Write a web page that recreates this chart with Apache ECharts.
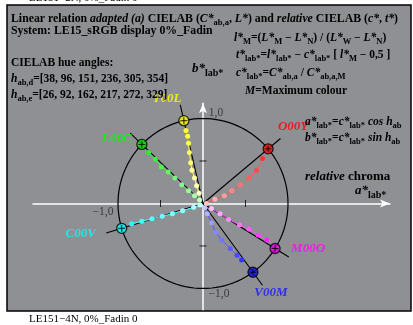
<!DOCTYPE html>
<html>
<head>
<meta charset="utf-8">
<script src="https://cdn.jsdelivr.net/npm/echarts@6/dist/echarts.min.js"></script>
<style>
  html, body { margin: 0; padding: 0; background: #fff; }
  #chart { width: 413px; height: 325px; }
</style>
</head>
<body>
<div id="chart"></div>
<script>
// hue axes of the six maximum colours (degrees in the a*/b* plane)
const hueNames = ['O00Y', 'Y00L', 'L00C', 'C00V', 'V00M', 'M00O'];
const hueAngles = [40, 103, 136, 197, 306, 328];
const hueAnglesD = [38, 96, 151, 236, 305, 354];
const hueAnglesE = [26, 92, 162, 217, 272, 329];

// measured points along each hue (a*lab*, b*lab*), outer to inner
const dotsO = [[0.70, 0.53], [0.63, 0.39], [0.54, 0.30], [0.44, 0.22], [0.34, 0.15], [0.25, 0.09], [0.14, 0.05], [0.04, 0.00]];
const dotsY = [[-0.20, 0.86], [-0.18, 0.79], [-0.17, 0.71], [-0.16, 0.60], [-0.145, 0.48], [-0.13, 0.39], [-0.10, 0.30], [-0.075, 0.21], [-0.047, 0.12]];
const dotsL = [[-0.64, 0.60], [-0.56, 0.52], [-0.49, 0.43], [-0.41, 0.37], [-0.33, 0.30], [-0.25, 0.22], [-0.17, 0.15], [-0.10, 0.09], [-0.04, 0.04]];
const dotsC = [[-0.84, -0.24], [-0.72, -0.21], [-0.60, -0.18], [-0.48, -0.15], [-0.36, -0.12], [-0.24, -0.085], [-0.11, -0.045], [-0.035, -0.018]];
const dotsV = [[0.455, -0.665], [0.40, -0.61], [0.32, -0.53], [0.22, -0.43], [0.15, -0.34], [0.10, -0.23], [0.05, -0.12], [0.02, -0.05]];
const dotsM = [[0.75, -0.43], [0.65, -0.37], [0.54, -0.30], [0.43, -0.25], [0.30, -0.19], [0.20, -0.12], [0.10, -0.06]];
const hueDots = [dotsO, dotsY, dotsL, dotsC, dotsV, dotsM];

const axisTicks = [-0.5, 0.5];
const axisTickLabels = ['1,0', '\u22121,0', '\u22121,0'];

// styling
const hueColors = ['#ff1010', '#ffff00', '#00f000', '#00ffff', '#1010ff', '#ff00ff'];
const labelColors = ['#ff0000', '#ffff00', '#00ff00', '#00ffff', '#1414ff', '#ff00ff'];
const labelOffsets = [[25, -22], [-17, -22], [-25, -6], [-41, 5], [18, 20], [33, 0]];
const rayLength = 1.19;
const serif = '"Liberation Serif", "DejaVu Serif", serif';
const ink = '#f8f8f8';

function mix(hex, t) {
  const n = parseInt(hex.slice(1), 16);
  const c = [(n >> 16) & 255, (n >> 8) & 255, n & 255].map(v => Math.round(v + (255 - v) * t));
  return 'rgb(' + c.join(',') + ')';
}
const rad = d => d * Math.PI / 180;

const rich = {
  b: { fontFamily: serif, fontWeight: 'bold', fontSize: 11.5, color: ink, lineHeight: 16 },
  bi: { fontFamily: serif, fontWeight: 'bold', fontStyle: 'italic', fontSize: 11.5, color: ink, lineHeight: 16 },
  s: { fontFamily: serif, fontWeight: 'bold', fontSize: 8.5, color: ink, lineHeight: 10, verticalAlign: 'bottom' },
  t: { fontFamily: serif, fontWeight: 'bold', fontSize: 11.8, color: ink, lineHeight: 16 },
  ti: { fontFamily: serif, fontWeight: 'bold', fontStyle: 'italic', fontSize: 11.8, color: ink, lineHeight: 16 },
  B: { fontFamily: serif, fontWeight: 'bold', fontSize: 13, color: ink, lineHeight: 18 },
  Bi: { fontFamily: serif, fontWeight: 'bold', fontStyle: 'italic', fontSize: 13, color: ink, lineHeight: 18 },
  S: { fontFamily: serif, fontWeight: 'bold', fontSize: 10, color: ink, lineHeight: 11, verticalAlign: 'bottom' }
};
function txt(x, y, text) {
  return { type: 'text', x: x, y: y, z: 100, style: { text: text, rich: rich, verticalAlign: 'middle' } };
}

const circle = [];
for (let d = 0; d <= 360; d += 3) circle.push([Math.cos(rad(d)), Math.sin(rad(d))]);

const series = [];
series.push({
  type: 'line', data: circle, showSymbol: false, silent: true,
  lineStyle: { color: '#000', width: 1.2 }, z: 3
});
hueAngles.forEach(a => {
  series.push({
    type: 'line', data: [[0, 0], [rayLength * Math.cos(rad(a)), rayLength * Math.sin(rad(a))]],
    showSymbol: false, lineStyle: { color: '#000', width: 1.1 }, z: 4
  });
});
hueDots.forEach((pts, i) => {
  series.push({
    type: 'line', z: 5,
    data: pts.map((p, k) => ({ value: p, itemStyle: { color: mix(hueColors[i], 0.15 + 0.7 * k / pts.length) } })),
    symbol: 'circle', symbolSize: 5, showSymbol: true,
    lineStyle: { color: mix(hueColors[i], 0.3), width: 1 }
  });
});
series.push({
  type: 'scatter', z: 6, symbol: 'circle', symbolSize: 10,
  data: hueAngles.map((a, i) => ({
    value: [Math.cos(rad(a)), Math.sin(rad(a))],
    itemStyle: { color: hueColors[i], borderColor: '#000', borderWidth: 1.3 },
    label: {
      show: true, formatter: hueNames[i], position: 'inside', offset: labelOffsets[i],
      color: labelColors[i], fontFamily: serif, fontWeight: 'bold', fontStyle: 'italic', fontSize: 13
    }
  }))
});
series.push({
  type: 'scatter', z: 7, symbol: 'path://M5,0L5,10M0,5L10,5', symbolSize: 7,
  itemStyle: { color: 'transparent', borderColor: '#000', borderWidth: 1 },
  data: hueAngles.map(a => [Math.cos(rad(a)), Math.sin(rad(a))])
});
series.push({
  type: 'scatter', z: 6, symbol: 'rect', symbolSize: [1, 7], itemStyle: { color: '#000' },
  data: axisTicks.map(v => [v, 0])
});
series.push({
  type: 'scatter', z: 6, symbol: 'rect', symbolSize: [7, 1], itemStyle: { color: '#000' },
  data: axisTicks.map(v => [0, v])
});
series.push({
  type: 'scatter', z: 6, symbolSize: 0,
  label: { show: true, color: '#222', fontFamily: serif, fontSize: 11.5, formatter: p => p.name, position: 'inside' },
  data: [
    { name: axisTickLabels[0], value: [0, 1], label: { offset: [13, -6] } },
    { name: axisTickLabels[1], value: [-1, 0], label: { offset: [-15, 9] } },
    { name: axisTickLabels[2], value: [0, -1], label: { offset: [16, 6] } }
  ]
});

const chart = echarts.init(document.getElementById('chart'), null, { renderer: 'canvas' });
chart.setOption({
  animation: false,
  backgroundColor: '#fff',
  grid: { left: 33, top: 103.2, width: 357, height: 206.5, containLabel: false, outerBoundsMode: 'none' },
  xAxis: {
    type: 'value', min: -2, max: 2.2,
    axisLine: { onZero: true, symbol: ['none', 'arrow'], symbolSize: [6, 10], lineStyle: { color: '#fff', width: 1.5 } },
    axisTick: { show: false }, axisLabel: { show: false }, splitLine: { show: false }
  },
  yAxis: {
    type: 'value', min: -1.25, max: 1.18,
    axisLine: { onZero: true, symbol: ['none', 'arrow'], symbolSize: [6, 10], lineStyle: { color: '#fff', width: 1.5 } },
    axisTick: { show: false }, axisLabel: { show: false }, splitLine: { show: false }
  },
  graphic: [
    { type: 'rect', z: 0, shape: { x: 7, y: 5, width: 404, height: 306 }, style: { fill: '#8f9094', stroke: '#000', lineWidth: 1.5 } },
    { type: 'text', x: 29, y: -2, z: 100, style: { text: 'LE151\u22122N, 0%_Fadin 0', font: '11px ' + serif, fill: '#000', verticalAlign: 'middle' } },
    { type: 'text', x: 29, y: 319, z: 100, style: { text: 'LE151\u22124N, 0%_Fadin 0', font: '11px ' + serif, fill: '#000', verticalAlign: 'middle' } },
    txt(11, 19, '{t|Linear relation }{ti|adapted (a)}{t| CIELAB (}{ti|C*}{s|ab,a}{t|, }{ti|L*}{t|) and }{ti|relative}{t| CIELAB (}{ti|c*}{t|, }{ti|t*}{t|)}'),
    txt(11, 31, '{t|System: LE15_sRGB display 0%_Fadin}'),
    txt(11, 63, '{b|CIELAB hue angles:}'),
    txt(11, 79, '{bi|h}{s|ab,d}{b|=[' + hueAnglesD.join(', ') + ']}'),
    txt(11, 95, '{bi|h}{s|ab,e}{b|=[' + hueAnglesE.join(', ') + ']}'),
    txt(234, 38, '{bi|l*}{s|M}{b|=(}{bi|L*}{s|M}{b| \u2212 }{bi|L*}{s|N}{b|) / (}{bi|L*}{s|W}{b| \u2212 }{bi|L*}{s|N}{b|)}'),
    txt(236, 55, '{bi|t*}{s|lab*}{b|=}{bi|l*}{s|lab*}{b| \u2212 }{bi|c*}{s|lab*}{b| [ }{bi|l*}{s|M}{b| \u2212 0,5 ]}'),
    txt(236, 73, '{bi|c*}{s|lab*}{b|=}{bi|C*}{s|ab,a}{b| / }{bi|C*}{s|ab,a,M}'),
    txt(245, 91, '{bi|M}{b|=Maximum colour}'),
    txt(305, 122, '{bi|a*}{s|lab*}{b|=}{bi|c*}{s|lab*}{bi| cos h}{s|ab}'),
    txt(305, 138, '{bi|b*}{s|lab*}{b|=}{bi|c*}{s|lab*}{bi| sin h}{s|ab}'),
    txt(192, 69, '{Bi|b*}{S|lab*}'),
    txt(305, 177, '{Bi|relative}{B| chroma}'),
    txt(355, 191, '{Bi|a*}{S|lab*}')
  ],
  series: series
});
</script>
</body>
</html>
